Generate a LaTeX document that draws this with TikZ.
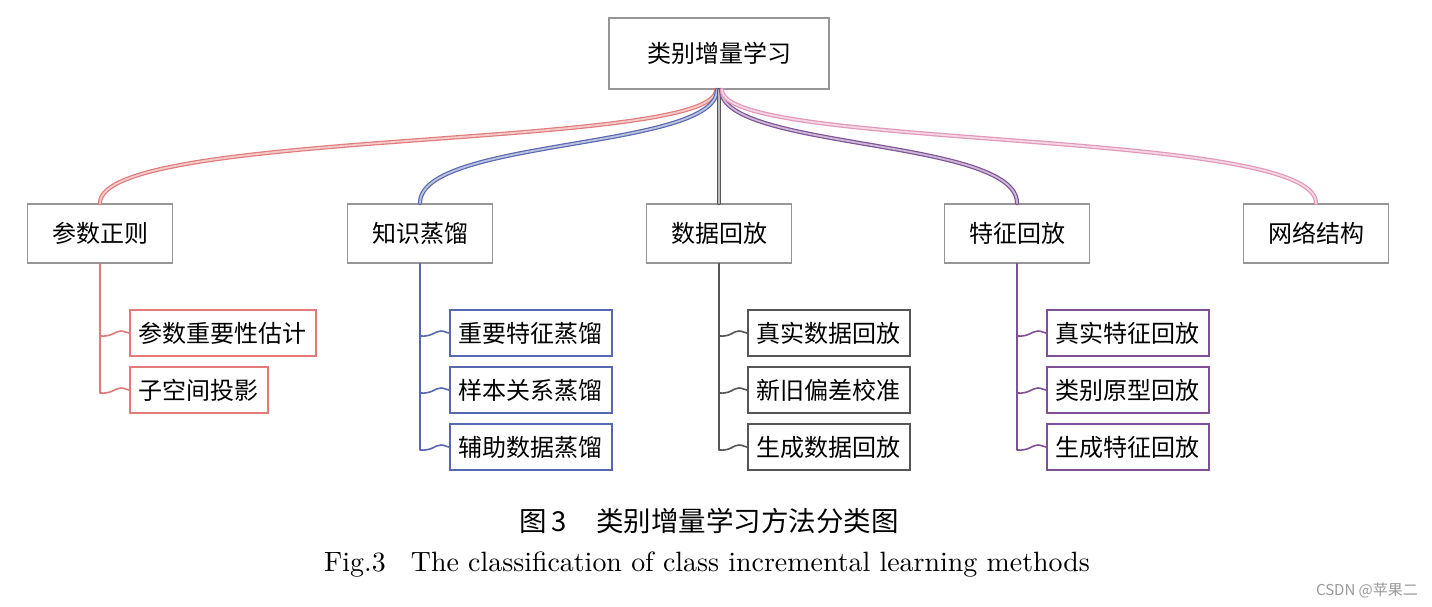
\documentclass[tikz,border=0pt]{standalone}
\usepackage{fontspec}
\newfontfamily\cjk{Noto Sans CJK SC}
\definecolor{cred}{RGB}{226,122,122}
\definecolor{cblue}{RGB}{88,104,176}
\definecolor{cgray}{RGB}{85,85,85}
\definecolor{cpurple}{RGB}{128,80,150}
\definecolor{cpink}{RGB}{226,150,185}
\definecolor{cbox}{RGB}{150,150,150}
\tikzset{
  rootbox/.style={draw=cbox, line width=1.8pt, minimum width=220pt, minimum height=71pt, inner sep=0pt, font=\cjk\fontsize{24}{28}\selectfont},
  topbox/.style={draw=cbox, line width=1.8pt, minimum width=145pt, minimum height=59pt, inner sep=0pt, font=\cjk\fontsize{24}{28}\selectfont},
  leafbox/.style={draw=#1, line width=1.8pt, anchor=west, minimum height=46pt, inner xsep=9pt, inner ysep=0pt, font=\cjk\fontsize{24}{28}\selectfont},
  mainlink/.style={draw=#1, line width=1.2pt, double=#1!40!white, double distance=1.8pt, line cap=round},
  leaflink/.style={draw=#1, line width=1.6pt, line cap=round, line join=round},
}
\begin{document}
\begin{tikzpicture}[x=1pt,y=-1pt]
\useasboundingbox (0,0) rectangle (1432,607);
% root
\node[rootbox] (root) at (719,53.5) {类别增量学习};
% level 1
\node[topbox] (a) at (100,233.5) {参数正则};
\node[topbox] (b) at (420,233.5) {知识蒸馏};
\node[topbox] (c) at (719,233.5) {数据回放};
\node[topbox] (d) at (1017,233.5) {特征回放};
\node[topbox] (e) at (1316,233.5) {网络结构};
% leaves
\node[leafbox=cred] (a1) at (129,333) {参数重要性估计};
\node[leafbox=cred] (a2) at (129,390) {子空间投影};
\node[leafbox=cblue] (b1) at (449,333) {重要特征蒸馏};
\node[leafbox=cblue] (b2) at (449,390) {样本关系蒸馏};
\node[leafbox=cblue] (b3) at (449,447) {辅助数据蒸馏};
\node[leafbox=cgray] (c1) at (747,333) {真实数据回放};
\node[leafbox=cgray] (c2) at (747,390) {新旧偏差校准};
\node[leafbox=cgray] (c3) at (747,447) {生成数据回放};
\node[leafbox=cpurple] (d1) at (1046,333) {真实特征回放};
\node[leafbox=cpurple] (d2) at (1046,390) {类别原型回放};
\node[leafbox=cpurple] (d3) at (1046,447) {生成特征回放};
% main links
\coordinate (r1) at ([xshift=-3pt]root.south);
\coordinate (r2) at ([xshift=-2pt]root.south);
\coordinate (r4) at ([xshift=2pt]root.south);
\coordinate (r5) at ([xshift=3pt]root.south);
\draw[mainlink=cred] (r1) .. controls ([yshift=-60pt]r1) and ([yshift=75pt]a.north) .. (a.north);
\draw[mainlink=cblue] (r2) .. controls ([yshift=-60pt]r2) and ([yshift=65pt]b.north) .. (b.north);
\draw[mainlink=cgray] (root.south) -- (c.north);
\draw[mainlink=cpurple] (r4) .. controls ([yshift=-60pt]r4) and ([yshift=65pt]d.north) .. (d.north);
\draw[mainlink=cpink] (r5) .. controls ([yshift=-60pt]r5) and ([yshift=75pt]e.north) .. (e.north);
% leaf links
\foreach \p/\col/\leaves in {a/cred/{a1,a2}, b/cblue/{b1,b2,b3}, c/cgray/{c1,c2,c3}, d/cpurple/{d1,d2,d3}}{
  \foreach \l in \leaves {
    \draw[leaflink=\col] (\p.south) -- ([yshift=-3pt]\p.south |- \l.west) .. controls +(12,1) and +(-6,0) .. ([xshift=-8pt,yshift=2pt]\l.west) .. controls +(4,0) and +(-3,0) .. (\l.west);
  }
}
% captions
\node[font=\cjk\fontsize{27.5}{32}\selectfont] (cap1) at (709,521) {图\,3\hspace{30pt}类别增量学习方法分类图};
\node[font=\fontsize{10}{12}\selectfont, scale=2.79] (cap2) at (707,565) {Fig.3\hspace{9pt}The classification of class incremental learning methods};
\node[font=\cjk\fontsize{15}{18}\selectfont, text=gray!80] (wm) at (1367,590) {CSDN @苹果二};
\end{tikzpicture}
\end{document}
